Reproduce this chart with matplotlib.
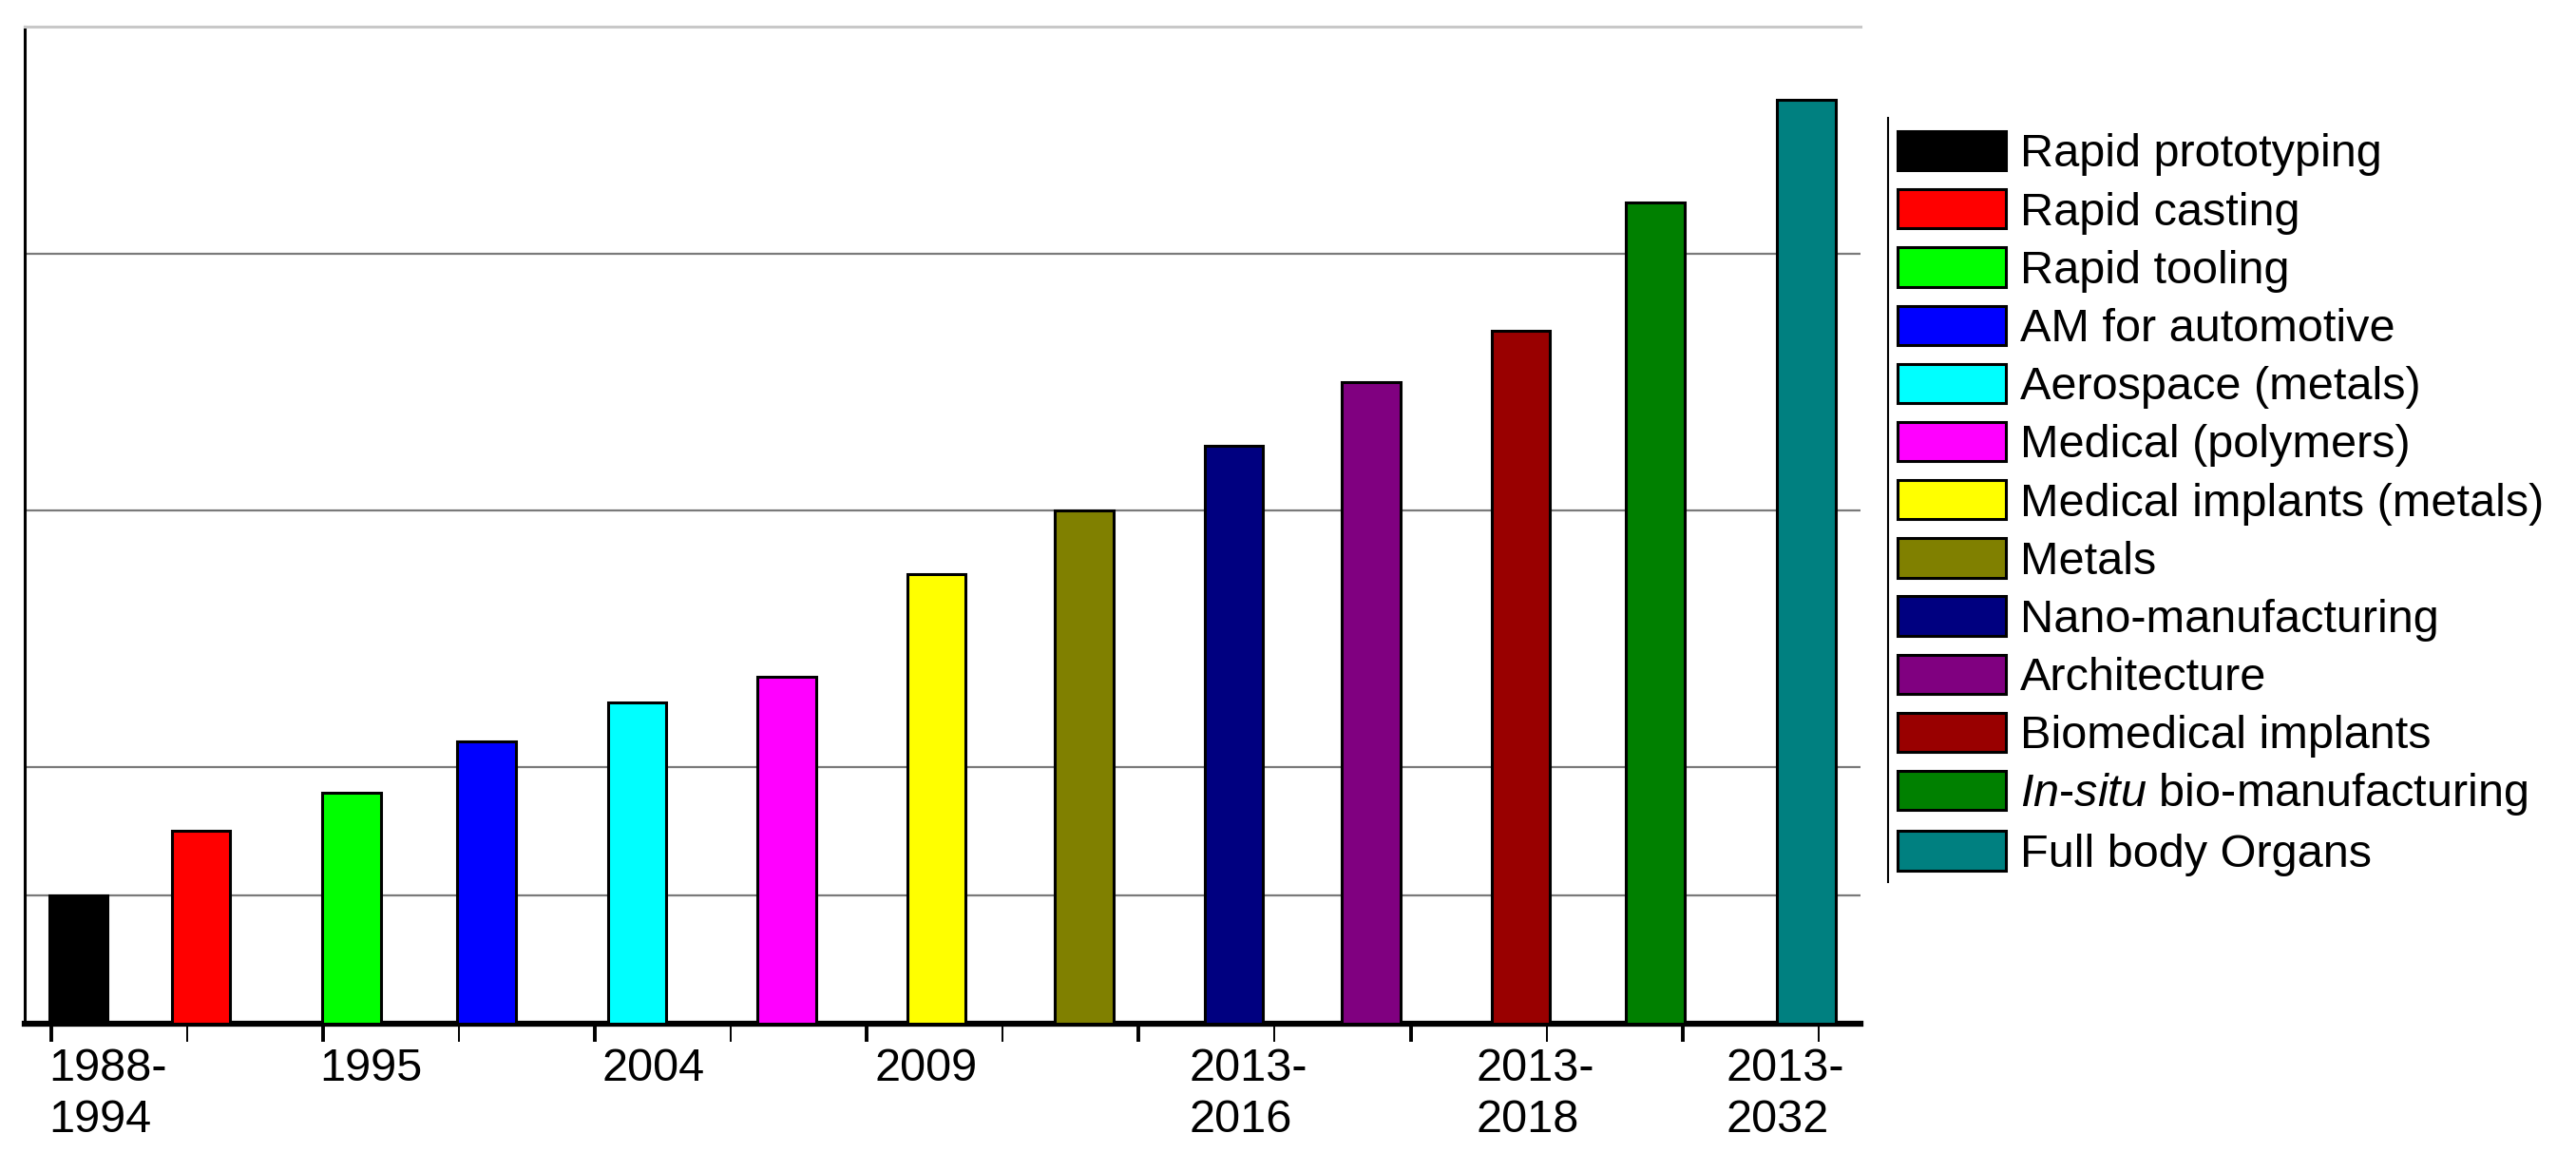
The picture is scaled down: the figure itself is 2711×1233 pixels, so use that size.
import numpy as np
import matplotlib
matplotlib.use('Agg')
import matplotlib.pyplot as plt
from matplotlib.lines import Line2D
from matplotlib.ticker import FixedLocator

plt.rcParams['font.family'] = ['Liberation Sans', 'DejaVu Sans']
plt.rcParams['mathtext.fontset'] = 'custom'
plt.rcParams['mathtext.rm'] = 'Liberation Sans'
plt.rcParams['mathtext.it'] = 'Liberation Sans:italic'

# data
labels = ['Rapid prototyping', 'Rapid casting', 'Rapid tooling', 'AM for automotive',
          'Aerospace (metals)', 'Medical (polymers)', 'Medical implants (metals)', 'Metals',
          'Nano-manufacturing', 'Architecture', 'Biomedical implants',
          r'$\it{In}$-$\it{situ}$ bio-manufacturing', 'Full body Organs']
bar_x = [0.20, 1.10, 2.21, 3.20, 4.31, 5.41, 6.51, 7.60, 8.70, 9.71, 10.81, 11.80, 12.91]
values = [1.0, 1.5, 1.8, 2.2, 2.5, 2.7, 3.5, 4.0, 4.5, 5.0, 5.4, 6.4, 7.2]
colors = ['#000000', '#ff0000', '#00ff00', '#0000ff', '#00ffff', '#ff00ff', '#ffff00',
          '#808000', '#000080', '#800080', '#990000', '#008000', '#008080']

period_labels = ['1988-\n1994', '1995', '2004', '2009', '2013-\n2016', '2013-\n2018', '2013-\n2032']
period_x = [-0.02, 1.97, 4.05, 6.06, 8.37, 10.48, 12.32]

W, H = 2711, 1233
fig = plt.figure(figsize=(W / 100, H / 100), dpi=100)
ax = fig.add_axes([26 / W, 1 - 1077 / H, (1958 - 26) / W, (1077 - 28) / H])

bars = ax.bar(bar_x, values, width=0.43, color=colors, edgecolor='black', linewidth=2.2, zorder=3)

ax.set_xlim(-0.196, 13.31)
ax.set_ylim(0, 7.77)

# grid lines
ax.set_yticks([1, 2, 4, 6])
ax.set_yticklabels([])
ax.tick_params(axis='y', length=0)
ax.grid(axis='y', color='#7a7a7a', linewidth=1.6, zorder=0)
ax.set_axisbelow(True)

# x ticks: even ones thick, odd ones thin
ax.xaxis.set_major_locator(FixedLocator(np.arange(0, 14, 2)))
ax.xaxis.set_minor_locator(FixedLocator(np.arange(1, 14, 2)))
ax.set_xticklabels([])
ax.tick_params(axis='x', which='major', direction='out', length=14, width=2.8, color='black')
ax.tick_params(axis='x', which='minor', direction='out', length=14, width=1.4, color='black')

ax.spines['right'].set_visible(False)
ax.spines['top'].set_color('#c8c8c8')
ax.spines['top'].set_linewidth(2.2)
ax.spines['left'].set_linewidth(2.2)
ax.spines['bottom'].set_linewidth(4.5)

trans = ax.get_xaxis_transform()
for x, t in zip(period_x, period_labels):
    ax.text(x, -0.024, t, transform=trans, ha='left', va='top', fontsize=35,
            linespacing=1.25, clip_on=False)

leg = fig.legend(bars.patches, labels, loc='upper left',
                 bbox_to_anchor=(1997 / W, 1 - 138 / H), frameon=False, fontsize=35,
                 borderpad=0, borderaxespad=0, handlelength=2.35, handleheight=0.93,
                 handletextpad=0.31, labelspacing=0.284)

fig.add_artist(Line2D([1987 / W, 1987 / W], [1 - 124 / H, 1 - 928 / H],
                      transform=fig.transFigure, color='black', linewidth=1.5))

fig.savefig('out.png', dpi=100, facecolor='white')
